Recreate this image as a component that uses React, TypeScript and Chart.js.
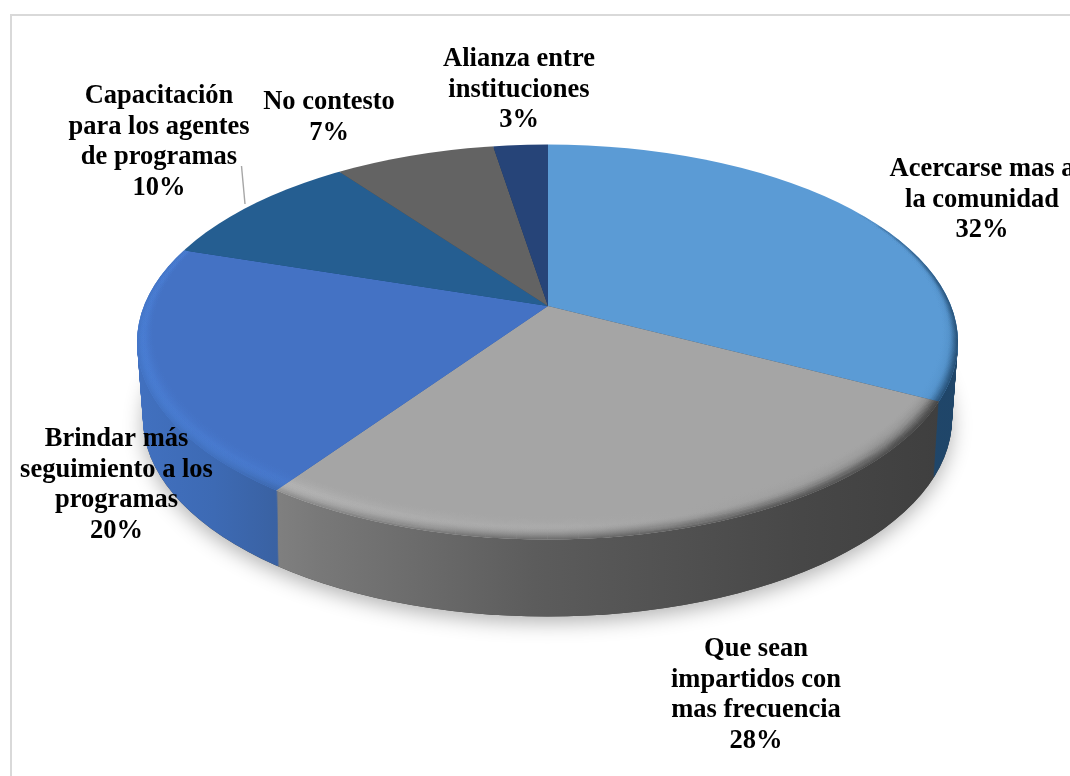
import React, { useEffect, useRef } from "react";
import { Chart, registerables } from "chart.js";

Chart.register(...registerables);

const categories: string[][] = [
  ["Acercarse mas a", "la comunidad"],
  ["Que sean", "impartidos con", "mas frecuencia"],
  ["Brindar más", "seguimiento a los", "programas"],
  ["Capacitación", "para los agentes", "de programas"],
  ["No contesto"],
  ["Alianza entre", "instituciones"],
];
const percentLabels = ["32%", "28%", "20%", "10%", "7%", "3%"];
const values = [32.5, 27.3, 20.1, 9.9, 7.6, 2.6];
const topColors = ["#5b9bd5", "#a5a5a5", "#4472c4", "#255e91", "#636363", "#264478"];

const FONT = 'bold 26.5px "Liberation Serif"';
const labelCentres = [
  [982, 169],
  [756, 649],
  [116.5, 439],
  [159, 96],
  [329, 102],
  [519, 59],
];
const LINE = 30.8;

const APEX = { x: 548, y: 306 };
const K = 0.48;
const TOP = { x: 547.5, y: 342, rx: 410.5, ry: 197.5 };
const DEPTH = 77;
const SHRINK = 6;
const RIM = 26;
const BLEND = 14;
const RIM_FROM = (-Math.PI * 40) / 180;
const RIM_TO = (Math.PI * 220) / 180;
const FADE = (Math.PI * 45) / 180;
const SEGMENTS = 60;

type Stops = [number, string][];
const wallStops: Stops[] = [
  [[0, "#234c72"], [1, "#1f4568"]],
  [[0.17, "#909090"], [0.3, "#787878"], [0.5, "#5c5c5c"], [0.75, "#474747"], [0.88, "#3f3f3f"]],
  [[0.1, "#4373c4"], [0.2, "#3d6ab4"], [0.27, "#39609f"]],
  [[0, "#1c4a73"], [1, "#1c4a73"]],
  [[0, "#4a4a4a"], [1, "#4a4a4a"]],
  [[0, "#1c3358"], [1, "#1c3358"]],
];
const rimStops: Stops[] = [
  [[0.6, "#5b9bd5"], [0.85, "#4f8cc4"], [0.95, "#3c74a6"]],
  [[0.17, "#e2e2e2"], [0.35, "#c4c4c4"], [0.55, "#b6b6b6"], [0.75, "#8e8e8e"], [0.88, "#565656"]],
  [[0.1, "#4f8ae6"], [0.2, "#4f88e2"], [0.27, "#4d84dc"]],
  [[0, "#255e91"], [1, "#255e91"]],
  [[0, "#636363"], [1, "#636363"]],
  [[0, "#264478"], [1, "#264478"]],
];

function gradient(ctx: CanvasRenderingContext2D, stops: Stops, dx: number) {
  const g = ctx.createLinearGradient(dx, 0, 1070 + dx, 0);
  stops.forEach(([p, c]) => g.addColorStop(p, c));
  return g;
}

function ellipsePath(ctx: CanvasRenderingContext2D, t: number) {
  ctx.beginPath();
  ctx.ellipse(TOP.x, TOP.y + DEPTH * t, TOP.rx - SHRINK * t, TOP.ry, 0, 0, Math.PI * 2);
}

function rimStroke(ctx: CanvasRenderingContext2D, j: number, alpha: number) {
  const step = (RIM_TO - RIM_FROM) / SEGMENTS;
  for (let s = 0; s < SEGMENTS; s++) {
    const a = RIM_FROM + s * step;
    const edge = Math.min(a + step / 2 - RIM_FROM, RIM_TO - a - step / 2);
    const fade = Math.min(edge / FADE, 1);
    ctx.globalAlpha = alpha * fade;
    ctx.beginPath();
    ctx.ellipse(TOP.x, TOP.y - 0.45 * j, TOP.rx - 0.7 * j, TOP.ry - 0.55 * j, 0, a, a + step);
    ctx.stroke();
  }
}

const pie3d = {
  id: "pie3d",
  beforeDraw(chart: any) {
    const { ctx } = chart;
    ctx.save();
    ctx.strokeStyle = "#d9d9d9";
    ctx.lineWidth = 2;
    ctx.beginPath();
    ctx.moveTo(11, 776);
    ctx.lineTo(11, 15);
    ctx.lineTo(1070, 15);
    ctx.stroke();
    ctx.restore();
  },
  beforeDatasetsDraw(chart: any) {
    const { ctx } = chart;
    const arcs = chart.getDatasetMeta(0).data;

    ctx.save();
    ctx.shadowColor = "rgba(0,0,0,0.30)";
    ctx.shadowBlur = 20;
    ctx.shadowOffsetY = 6;
    ctx.fillStyle = "#444";
    ellipsePath(ctx, 1);
    ctx.fill();
    ctx.restore();

    for (let d = DEPTH; d >= 1; d--) {
      const t = d / DEPTH;
      arcs.forEach((arc: any, i: number) => {
        const saved = arc.options;
        const dx = arc.x - APEX.x;
        arc.options = {
          backgroundColor: gradient(ctx, wallStops[i], dx),
          borderColor: "transparent",
          borderWidth: 0,
          borderAlign: "center",
          borderRadius: 0,
          offset: 0,
          spacing: 0,
          circular: true,
        };
        ctx.save();
        ellipsePath(ctx, t);
        ctx.clip();
        ctx.translate(APEX.x, APEX.y + d);
        ctx.scale(1, K);
        ctx.translate(-arc.x, -arc.y);
        arc.draw(ctx);
        ctx.restore();
        arc.options = saved;
      });
    }
  },
  beforeDatasetDraw(chart: any) {
    const { ctx } = chart;
    const arc = chart.getDatasetMeta(0).data[0];
    ctx.save();
    ellipsePath(ctx, 0);
    ctx.clip();
    ctx.translate(APEX.x, APEX.y);
    ctx.scale(1, K);
    ctx.translate(-arc.x, -arc.y);
  },
  afterDatasetDraw(chart: any) {
    const { ctx } = chart;
    ctx.restore();
    const arcs = chart.getDatasetMeta(0).data;
    arcs.forEach((arc: any, i: number) => {
      if (i > 2) return;
      ctx.save();
      ellipsePath(ctx, 0);
      ctx.clip();
      ctx.beginPath();
      ctx.moveTo(APEX.x, APEX.y);
      ctx.ellipse(APEX.x, APEX.y, 900, 900 * K, 0, arc.startAngle, arc.endAngle);
      ctx.closePath();
      ctx.clip();
      ctx.lineWidth = 1.4;
      ctx.strokeStyle = gradient(ctx, rimStops[i], 0);
      for (let j = RIM; j >= 0; j--) {
        const f = 1 - j / RIM;
        rimStroke(ctx, j, f * f * 0.8);
      }
      ctx.strokeStyle = gradient(ctx, wallStops[i], 0);
      for (let j = BLEND; j >= 0; j--) {
        const f = 1 - j / BLEND;
        rimStroke(ctx, j, f * f * 0.75);
      }
      ctx.restore();
    });
  },
  afterDraw(chart: any) {
    const { ctx } = chart;
    ctx.save();
    ctx.strokeStyle = "#a6a6a6";
    ctx.lineWidth = 1.4;
    ctx.beginPath();
    ctx.moveTo(241.5, 166);
    ctx.lineTo(245, 204);
    ctx.stroke();

    ctx.font = FONT;
    ctx.fillStyle = "#000";
    ctx.textAlign = "center";
    ctx.textBaseline = "middle";
    categories.forEach((lines, i) => {
      const [x, y] = labelCentres[i];
      [...lines, percentLabels[i]].forEach((s, n) => ctx.fillText(s, x, y + n * LINE));
    });
    ctx.restore();
  },
};

export default function App() {
  const ref = useRef<HTMLCanvasElement>(null);
  useEffect(() => {
    const chart = new Chart(ref.current as HTMLCanvasElement, {
      type: "pie",
      data: {
        labels: categories.map((c) => c.join(" ")),
        datasets: [
          {
            data: values,
            backgroundColor: topColors,
            borderWidth: 0,
            clip: false,
          } as any,
        ],
      },
      options: {
        responsive: false,
        animation: false,
        radius: 900,
        layout: { padding: 0 },
        plugins: { legend: { display: false }, tooltip: { enabled: false } },
      } as any,
      plugins: [pie3d],
    });
    return () => chart.destroy();
  }, []);
  return (
    <div style={{ position: "absolute", left: 0, top: 0, width: 1070, height: 776, background: "#fff" }}>
      <canvas ref={ref} width={1070} height={776} style={{ display: "block" }} />
    </div>
  );
}
